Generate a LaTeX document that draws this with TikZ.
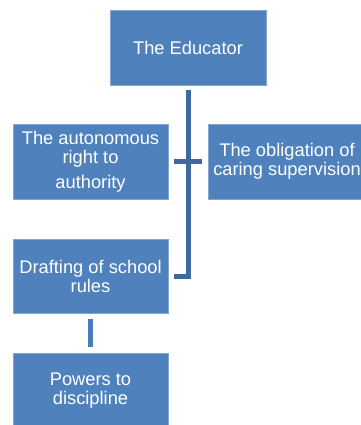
\documentclass[tikz,border=0pt]{standalone}
\usepackage{fontspec}
\setmainfont{Liberation Sans}
\usetikzlibrary{calc}
\definecolor{boxblue}{HTML}{4F81BD}
\definecolor{lineblue}{HTML}{3E6AA0}
\definecolor{lineblue2}{HTML}{4A7CBA}
\tikzset{
  x=1pt,y=1pt,
  box/.style={fill=boxblue, draw=boxblue!70!white, line width=0.6pt, text=white, font=\fontsize{18.3}{19}\selectfont, align=center, inner sep=0pt, minimum width=155pt, minimum height=75pt},
  conn/.style={draw=lineblue, line width=5pt},
  conn2/.style={draw=lineblue2, line width=5pt}
}
\begin{document}
\begin{tikzpicture}
\useasboundingbox (0,0) rectangle (360,425);
\node[box, minimum width=156pt] (edu) at (188,377.5) {The Educator};
\node[box] (left) at (90.5,263.5) {The autonomous\\right to\\[6pt]authority};
\node[box, minimum width=158pt] (right) at (287,263.5) {The obligation of\\caring supervision};
\node[box, minimum height=74pt] (draft) at (90.5,149) {Drafting of school\\rules};
\node[box] (powers) at (90.5,34.5) {Powers to\\discipline};
\draw[conn] ($(edu.south)+(0,-5)$) |- ($(draft.east)+(6,-1)$);
\draw[conn] ($(left.east)+(6,0)$) -- ($(right.west)+(-6,0)$);
\draw[conn2] ($(draft.south)+(0,-6)$) -- ($(powers.north)+(0,6)$);
\end{tikzpicture}
\end{document}
